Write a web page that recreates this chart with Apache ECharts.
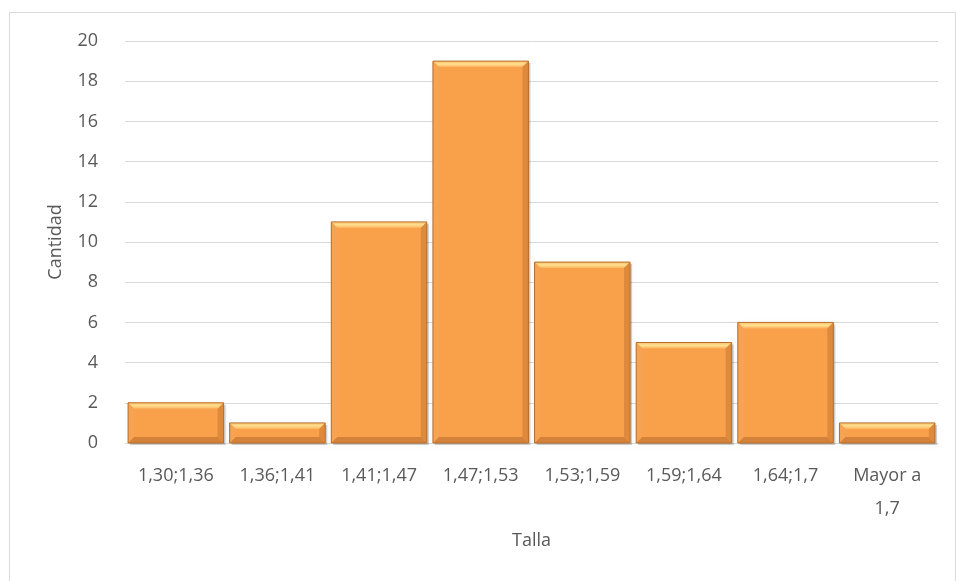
<!DOCTYPE html>
<html>
<head>
<meta charset="utf-8">
<script src="https://cdn.jsdelivr.net/npm/echarts@6/dist/echarts.min.js"></script>
<style>
  html, body { margin: 0; padding: 0; background: #fff; }
  #chart { width: 956px; height: 581px; }
</style>
</head>
<body>
<div id="chart"></div>
<script>
// Histogram of heights (Talla) with counts per class
const categories = ['1,30;1,36', '1,36;1,41', '1,41;1,47', '1,47;1,53', '1,53;1,59', '1,59;1,64', '1,64;1,7', 'Mayor a\n1,7'];
const counts = [2, 1, 11, 19, 9, 5, 6, 1];
const yTicks = { min: 0, max: 20, interval: 2 };

const FONT = '"Open Sans", "Liberation Sans", sans-serif';
const TEXT = '#595959';
const FS = 18;

// Bevelled bar: main face plus four trapezoid edges
function renderBevelBar(params, api) {
  const idx = api.value(0);
  const val = api.value(1);
  const top = api.coord([idx, val]);
  const base = api.coord([idx, 0]);
  const band = api.size([1, 0])[0];
  const w = band * 0.94;
  const x0 = top[0] - w / 2, x1 = top[0] + w / 2;
  const y0 = top[1], y1 = base[1];
  const h = y1 - y0;
  const b = Math.min(6, h / 2.2);
  const poly = (pts, fill) => ({ type: 'polygon', shape: { points: pts }, style: { fill: fill } });
  return {
    type: 'group',
    children: [
      // drop shadow
      { type: 'rect', shape: { x: x0 + 2, y: y0 + 2, width: w, height: h }, style: { fill: 'rgba(0,0,0,0.18)', shadowBlur: 4, shadowColor: 'rgba(0,0,0,0.25)' } },
      { type: 'rect', shape: { x: x0, y: y0, width: w, height: h }, style: { fill: '#F9A04B' } },
      poly([[x0, y0], [x1, y0], [x1 - b, y0 + b], [x0 + b, y0 + b]], {
        type: 'linear', x: 0, y: 0, x2: 0, y2: 1,
        colorStops: [{ offset: 0, color: '#FCC16E' }, { offset: 0.5, color: '#FFE08E' }, { offset: 1, color: '#FCB15C' }]
      }),
      poly([[x0, y0], [x0 + b, y0 + b], [x0 + b, y1 - b], [x0, y1]], '#F6A453'),
      poly([[x1, y0], [x1 - b, y0 + b], [x1 - b, y1 - b], [x1, y1]], '#DE8A3C'),
      poly([[x0, y1], [x0 + b, y1 - b], [x1 - b, y1 - b], [x1, y1]], '#D4823A'),
      { type: 'rect', shape: { x: x0, y: y0, width: w, height: h }, style: { fill: 'none', stroke: '#B86E2C', lineWidth: 1 } }
    ]
  };
}

const chart = echarts.init(document.getElementById('chart'), null, { renderer: 'canvas' });
chart.setOption({
  animation: false,
  graphic: [{
    type: 'rect', left: 7, top: 10, z: -10,
    shape: { width: 946, height: 580 },
    style: { fill: 'none', stroke: '#D9D9D9', lineWidth: 1 }
  }],
  grid: { left: 125, right: 18, top: 41, bottom: 138 },
  xAxis: {
    type: 'category',
    data: categories,
    name: 'Talla',
    nameLocation: 'middle',
    nameGap: 89,
    nameTextStyle: { color: TEXT, fontFamily: FONT, fontSize: FS },
    axisLine: { show: true, lineStyle: { color: '#D9D9D9' } },
    axisTick: { show: false },
    axisLabel: { color: TEXT, fontFamily: FONT, fontSize: FS, margin: 16, lineHeight: 33, interval: 0 }
  },
  yAxis: {
    type: 'value',
    min: yTicks.min, max: yTicks.max, interval: yTicks.interval,
    name: 'Cantidad',
    nameLocation: 'middle',
    nameGap: 60,
    nameTextStyle: { color: TEXT, fontFamily: FONT, fontSize: FS },
    axisLine: { show: false },
    axisTick: { show: false },
    axisLabel: { color: TEXT, fontFamily: FONT, fontSize: FS, margin: 27 },
    splitLine: { lineStyle: { color: '#D9D9D9' } }
  },
  series: [{
    type: 'custom',
    renderItem: renderBevelBar,
    encode: { x: 0, y: 1 },
    data: counts.map((v, i) => [i, v])
  }]
});
</script>
</body>
</html>
